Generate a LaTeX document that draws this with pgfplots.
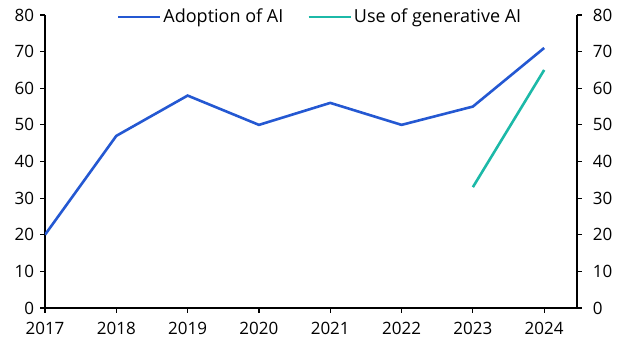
\documentclass[border=0pt]{standalone}
\usepackage{pgfplots}
\pgfplotsset{compat=1.18}
\usepackage{fontspec}
\setmainfont{Open Sans}
\definecolor{cblue}{HTML}{2458D2}
\definecolor{cteal}{HTML}{1CB9A8}
\begin{document}
\fontsize{17}{20}\selectfont
\begin{tikzpicture}
\pgfplotsset{
  common/.style={
    scale only axis, width=532pt, height=293pt,
    xmin=2017, xmax=2024.46, ymin=0, ymax=80,
    ytick={0,10,...,80},
    tick style={black, line width=1.2pt},
    major tick length=5pt,
    tick align=outside,
    axis line style={line width=2pt},
    /pgf/number format/assume math mode=true,
    tick label style={font=\fontsize{17}{20}\selectfont},
  }
}
\begin{axis}[common,
  axis x line*=bottom, axis y line*=left,
  xtick={2017,...,2024},
  xticklabel style={/pgf/number format/1000 sep={}, yshift=-3pt},
  legend style={draw=none, fill=none, at={(0.517,1.035)}, anchor=north, legend columns=2,
    font=\fontsize{18}{21}\selectfont, /tikz/every even column/.append style={column sep=22pt}},
  legend image code/.code={\draw[#1, line width=2.6pt] (0pt,0pt) -- (42pt,0pt);},
]
\addplot[cblue, line width=2.6pt] coordinates {(2017,20) (2018,47) (2019,58) (2020,50) (2021,56) (2022,50) (2023,55) (2024,71)};
\addlegendentry{Adoption of AI}
\addplot[cteal, line width=2.6pt] coordinates {(2023,33) (2024,65)};
\addlegendentry{Use of generative AI}
\end{axis}
\begin{axis}[common,
  axis x line=none, axis y line*=right, xtick=\empty,
  yticklabel style={xshift=5pt},
]
\addplot[draw=none] coordinates {(2017,0)};
\end{axis}
\pgfresetboundingbox
\path[use as bounding box] (-45pt,-47pt) rectangle (584pt,308pt);
\end{tikzpicture}
\end{document}
